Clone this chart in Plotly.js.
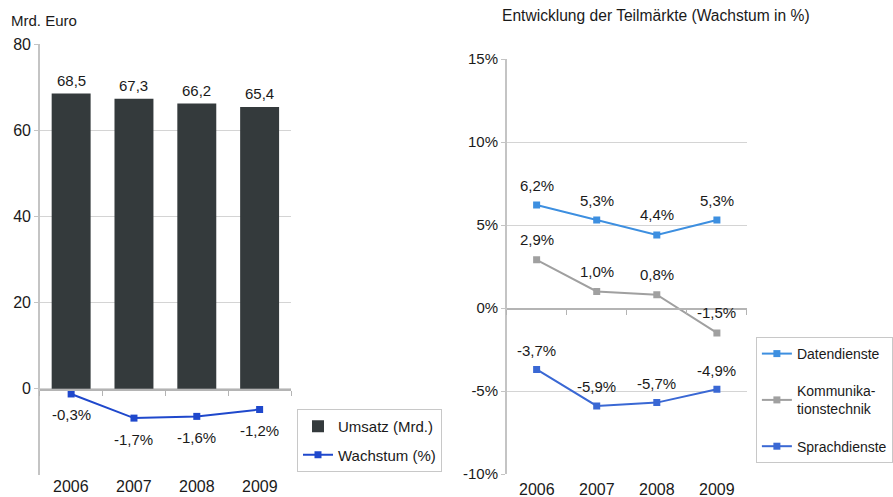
<!DOCTYPE html>
<html>
<head>
<meta charset="utf-8">
<script src="https://cdn.plot.ly/plotly-3.0.1.min.js"></script>
<style>html,body{margin:0;padding:0;background:#fff}#chart{width:893px;height:497px}</style>
</head>
<body>
<div id="chart"></div>
<script>
// Data
const years = ['2006', '2007', '2008', '2009'];
const umsatz = [68.5, 67.3, 66.2, 65.4];
const umsatzLabels = ['68,5', '67,3', '66,2', '65,4'];
const wachstum = [-0.3, -1.7, -1.6, -1.2];
const wachstumLabels = ['-0,3%', '-1,7%', '-1,6%', '-1,2%'];
const datendienste = [6.2, 5.3, 4.4, 5.3];
const datendiensteLabels = ['6,2%', '5,3%', '4,4%', '5,3%'];
const kommunikation = [2.9, 1.0, 0.8, -1.5];
const kommunikationLabels = ['2,9%', '1,0%', '0,8%', '-1,5%'];
const sprachdienste = [-3.7, -5.9, -5.7, -4.9];
const sprachdiensteLabels = ['-3,7%', '-5,9%', '-5,7%', '-4,9%'];
const leftTicks = [0, 20, 40, 60, 80];
const rightTicks = [-10, -5, 0, 5, 10, 15];
const rightTickText = ['-10%', '-5%', '0%', '5%', '10%', '15%'];

const W = 893, H = 497;
const px = v => v / W;
const py = v => (H - v) / H;
const FONT = 'Liberation Sans, Arial, sans-serif';
const TXT = '#1a1a1a';

const traces = [
  {type: 'bar', x: years, y: umsatz, name: 'Umsatz (Mrd.)', xaxis: 'x', yaxis: 'y',
   marker: {color: '#343a3c'}, legend: 'legend', legendgroup: 'a', hoverinfo: 'skip'},
  {type: 'scatter', mode: 'lines+markers', x: years, y: wachstum, name: 'Wachstum (%)',
   xaxis: 'x', yaxis: 'y2', line: {color: '#1f48cc', width: 2},
   marker: {symbol: 'square', size: 7, color: '#1f48cc'}, legend: 'legend', legendgroup: 'b', cliponaxis: false},
  {type: 'scatter', mode: 'lines+markers', x: years, y: datendienste, name: 'Datendienste',
   xaxis: 'x2', yaxis: 'y3', line: {color: '#3d8fe0', width: 2},
   marker: {symbol: 'square', size: 7, color: '#3d8fe0'}, legend: 'legend2', legendgroup: 'c'},
  {type: 'scatter', mode: 'lines+markers', x: years, y: kommunikation, name: 'Kommunika-<br>tionstechnik',
   xaxis: 'x2', yaxis: 'y3', line: {color: '#a0a0a0', width: 2},
   marker: {symbol: 'square', size: 7, color: '#a0a0a0'}, legend: 'legend2', legendgroup: 'd'},
  {type: 'scatter', mode: 'lines+markers', x: years, y: sprachdienste, name: 'Sprachdienste',
   xaxis: 'x2', yaxis: 'y3', line: {color: '#3a68d4', width: 2},
   marker: {symbol: 'square', size: 7, color: '#3a68d4'}, legend: 'legend2', legendgroup: 'e'}
];

const annotations = [];
// on category axes annotations take the category index
function addLabels(ys, labels, xref, yref, shift) {
  ys.forEach((v, i) => annotations.push({
    x: i, y: v, text: labels[i], xref: xref, yref: yref, showarrow: false,
    yshift: shift, font: {size: 15, color: TXT, family: FONT}
  }));
}
addLabels(umsatz, umsatzLabels, 'x', 'y', 13);
addLabels(wachstum, wachstumLabels, 'x', 'y2', -21);
addLabels(datendienste, datendiensteLabels, 'x2', 'y3', 20);
addLabels(kommunikation, kommunikationLabels, 'x2', 'y3', 20);
addLabels(sprachdienste, sprachdiensteLabels, 'x2', 'y3', 19);

// category labels under each panel
years.forEach((yr, i) => {
  annotations.push({x: i, xref: 'x', yref: 'paper', y: py(486), text: yr, showarrow: false,
    yanchor: 'middle', font: {size: 16, color: TXT, family: FONT}});
  annotations.push({x: i, xref: 'x2', yref: 'paper', y: py(489), text: yr, showarrow: false,
    yanchor: 'middle', font: {size: 16, color: TXT, family: FONT}});
});

annotations.push({text: 'Mrd. Euro', xref: 'paper', yref: 'paper', x: px(9), y: py(20),
  xanchor: 'left', yanchor: 'middle', showarrow: false, font: {size: 15, color: TXT, family: FONT}});
annotations.push({text: 'Entwicklung der Teilmärkte (Wachstum in %)', xref: 'paper', yref: 'paper',
  x: px(660), y: py(16), xanchor: 'center', yanchor: 'middle', showarrow: false,
  font: {size: 15.6, color: TXT, family: FONT}});

const layout = {
  width: W, height: H,
  margin: {l: 0, r: 0, t: 0, b: 0},
  paper_bgcolor: '#fff', plot_bgcolor: 'rgba(0,0,0,0)',
  font: {family: FONT, color: TXT},
  bargap: 0.38,
  showlegend: true,
  xaxis: {domain: [px(40), px(293)], type: 'category', range: [-0.5, 3.5], anchor: 'free', position: py(389),
    showline: true, linecolor: '#b4b4b4', linewidth: 1.5, ticks: 'outside', tickson: 'boundaries',
    ticklen: 5, tickcolor: '#b4b4b4', showticklabels: false, showgrid: false, zeroline: false, fixedrange: true},
  yaxis: {domain: [py(475), py(44)], range: [-20, 80], tickvals: leftTicks, showgrid: true,
    gridcolor: '#d4d4d4', gridwidth: 1, zeroline: false,
    showline: true, linecolor: '#c4c4c4', linewidth: 1.5, ticks: 'outside', ticklen: 4,
    tickcolor: '#c4c4c4', tickfont: {size: 16, color: TXT, family: FONT}, anchor: 'x', fixedrange: true},
  yaxis2: {overlaying: 'y', range: [-5, 20], visible: false, anchor: 'x', fixedrange: true},
  xaxis2: {domain: [px(510), px(752)], type: 'category', range: [-0.5, 3.5], anchor: 'free', position: py(308),
    showline: true, linecolor: '#b4b4b4', linewidth: 1.5, ticks: 'outside', tickson: 'boundaries',
    ticklen: 5, tickcolor: '#b4b4b4', showticklabels: false, showgrid: false, zeroline: false, fixedrange: true},
  yaxis3: {domain: [py(474), py(59)], range: [-10, 15], tickvals: rightTicks, ticktext: rightTickText,
    showgrid: true, gridcolor: '#d4d4d4', zeroline: false,
    showline: true, linecolor: '#c4c4c4', linewidth: 1.5, ticks: 'outside', ticklen: 4,
    tickcolor: '#c4c4c4', tickfont: {size: 15, color: TXT, family: FONT}, anchor: 'x2', fixedrange: true},
  legend: {x: px(299), y: py(409), xanchor: 'left', yanchor: 'top', bgcolor: '#fff',
    bordercolor: '#c8c8c8', borderwidth: 1, font: {size: 15, color: TXT, family: FONT},
    tracegroupgap: 6, itemwidth: 30},
  legend2: {x: px(761), y: py(337), xanchor: 'left', yanchor: 'top', bgcolor: '#fff',
    bordercolor: '#c8c8c8', borderwidth: 1, font: {size: 14, color: TXT, family: FONT},
    tracegroupgap: 16, itemwidth: 30},
  annotations: annotations
};

Plotly.newPlot('chart', traces, layout, {displayModeBar: false, staticPlot: true});
</script>
</body>
</html>
